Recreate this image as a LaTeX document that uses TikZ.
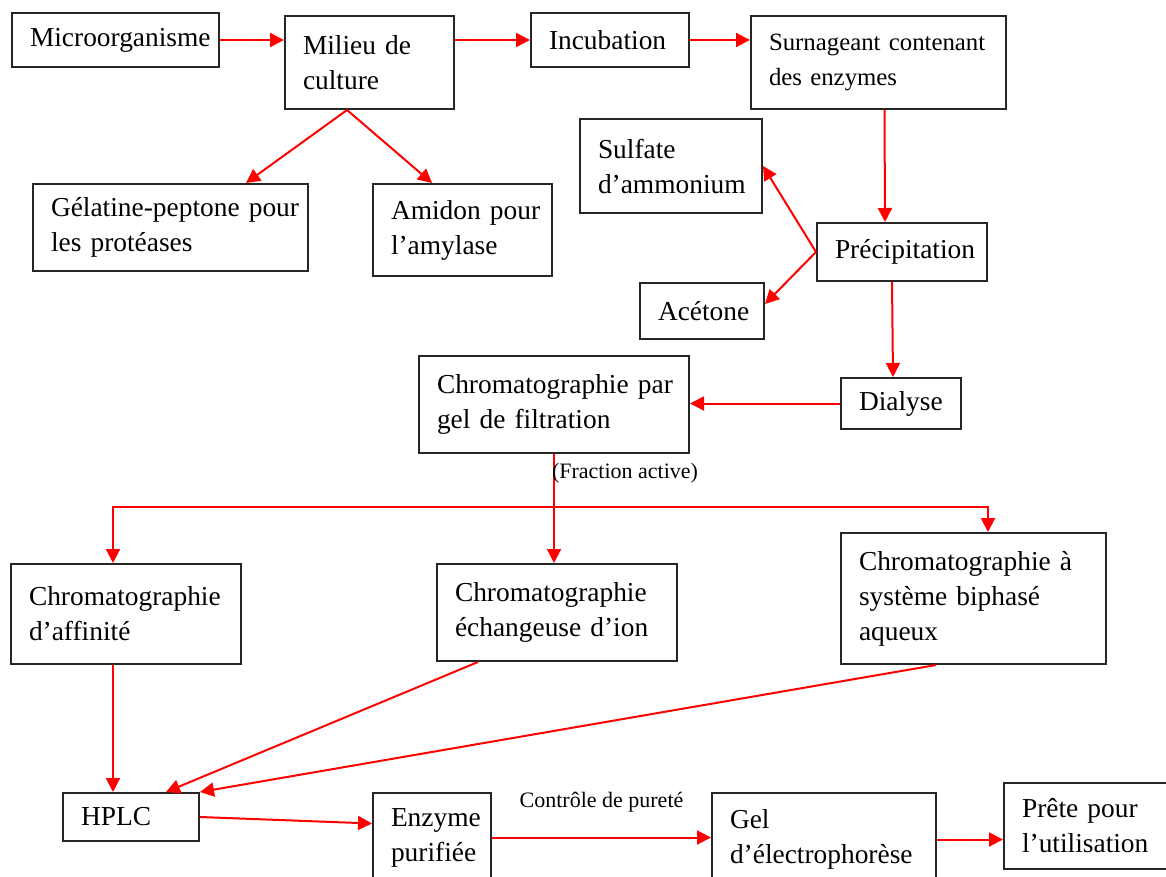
\documentclass[tikz,border=0pt]{standalone}
\usepackage{fontspec}
\setmainfont{Liberation Serif}
\usetikzlibrary{arrows.meta}

\begin{document}
\begin{tikzpicture}[
      x=0.5pt, y=-0.5pt,
      box/.style={draw=black!85, line width=1pt, anchor=north west, align=left,
                  inner xsep=2pt, inner ysep=2pt,
                  execute at begin node={\leftskip 7pt\rightskip 0pt plus 1fil\relax},
                  font=\fontsize{13.7}{17.5}\selectfont},
      arr/.style={-{Triangle[length=7pt,width=7pt]}, red, line width=1pt},
      lbl/.style={text=black, font=\fontsize{11}{13}\selectfont}
    ]
    \useasboundingbox (0,0) rectangle (1166,877);
    \clip (0,0) rectangle (1166,877);
    % Nodes (text width = box width - 4pt)
    \node[box, text width=99.5pt,  minimum height=27pt]   (micro)  at (11,12)   {Microorganisme};
    \node[box, text width=80.5pt,  minimum height=46.5pt] (milieu) at (284,15)  {Milieu de\\culture};
    \node[box, text width=75pt,    minimum height=27pt]   (incub)  at (530,12)  {Incubation};
    \node[box, text width=123.5pt, minimum height=46.5pt,
          font=\fontsize{12.4}{17.5}\selectfont]           (surn)   at (750,15)  {Surnageant contenant\\des enzymes};
    \node[box, text width=133.5pt, minimum height=43.5pt] (gelat)  at (32,183)  {Gélatine-peptone pour\\les protéases};
    \node[box, text width=85.5pt,  minimum height=46pt]   (amid)   at (372,183) {Amidon pour\\l’amylase};
    \node[box, text width=87pt,    minimum height=47pt]   (sulf)   at (579,118) {Sulfate\\d’ammonium};
    \node[box, text width=81pt,    minimum height=29pt]   (precip) at (816,222) {Précipitation};
    \node[box, text width=58pt,    minimum height=28pt]   (acet)   at (639,282) {Acétone};
    \node[box, text width=131pt,   minimum height=48.5pt] (filtr)  at (418,355) {Chromatographie par\\gel de filtration};
    \node[box, text width=56pt,    minimum height=25.5pt] (dial)   at (840,377) {Dialyse};
    \node[box, text width=111pt,   minimum height=50pt]   (affin)  at (10,563)  {Chromatographie\\d’affinité};
    \node[box, text width=116pt,   minimum height=48.5pt] (echang) at (436,563) {Chromatographie\\échangeuse d’ion};
    \node[box, text width=128.5pt, minimum height=65.5pt] (bipha)  at (840,532) {Chromatographie à\\système biphasé\\aqueux};
    \node[box, text width=64pt,    minimum height=24pt]   (hplc)   at (62,792)  {HPLC};
    \node[box, text width=55pt,    minimum height=44.5pt] (enzy)   at (372,792) {Enzyme\\purifiée};
    \node[box, text width=108pt,   minimum height=46.5pt] (gel)    at (711,792) {Gel\\d’électrophorèse};
    \node[box, text width=83.5pt,  minimum height=43pt]   (prete)  at (1003,782) {Prête pour\\l’utilisation};
    % Arrows (top row)
    \draw[arr] (micro.east) -- (micro.east -| milieu.west);
    \draw[arr] (milieu.east |- incub.west) -- (incub.west);
    \draw[arr] (incub.east) -- (incub.east -| surn.west);
    \draw[arr] ([xshift=-11.25pt]milieu.south) -- ([xshift=37.75pt]gelat.north);
    \draw[arr] ([xshift=-11.25pt]milieu.south) -- ([xshift=-15.25pt]amid.north);
    % Precipitation and dialysis
    \draw[arr] ([xshift=3pt]surn.south) -- ([xshift=-8.5pt]precip.north);
    \draw[arr] (precip.west) -- (sulf.east);
    \draw[arr] (precip.west) -- ([yshift=3.5pt]acet.east);
    \draw[arr] ([xshift=-5pt]precip.south) -- ([xshift=-4pt]dial.north);
    \draw[arr] (dial.west) -- (dial.west -| filtr.east);
    % Fraction active split
    \coordinate (fork) at ([yshift=-26.5pt]filtr.south);
    \draw[arr] (filtr.south) -- node[pos=0.18, anchor=west, inner sep=0pt, xshift=-1.5pt, lbl]{(Fraction active)} (filtr.south |- echang.north);
    \draw[arr] (fork) -| ([xshift=-6.5pt]affin.north);
    \draw[arr] (fork) -| ([xshift=7.25pt]bipha.north);
    % Towards HPLC
    \draw[arr] ([xshift=-6.5pt]affin.south) -- ([xshift=-9pt]hplc.north);
    \draw[arr] ([xshift=-39.5pt]echang.south) -- ([xshift=17.5pt]hplc.north);
    \draw[arr] ([xshift=-18.75pt]bipha.south) -- (hplc.north east);
    % Bottom row
    \draw[arr] (hplc.east) -- ([yshift=7pt]enzy.west);
    \draw[arr] (enzy.east) -- node[above=9pt, lbl]{Contrôle de pureté} (enzy.east -| gel.west);
    \draw[arr] (gel.east) -- (gel.east -| prete.west);
  \end{tikzpicture}
\end{document}
